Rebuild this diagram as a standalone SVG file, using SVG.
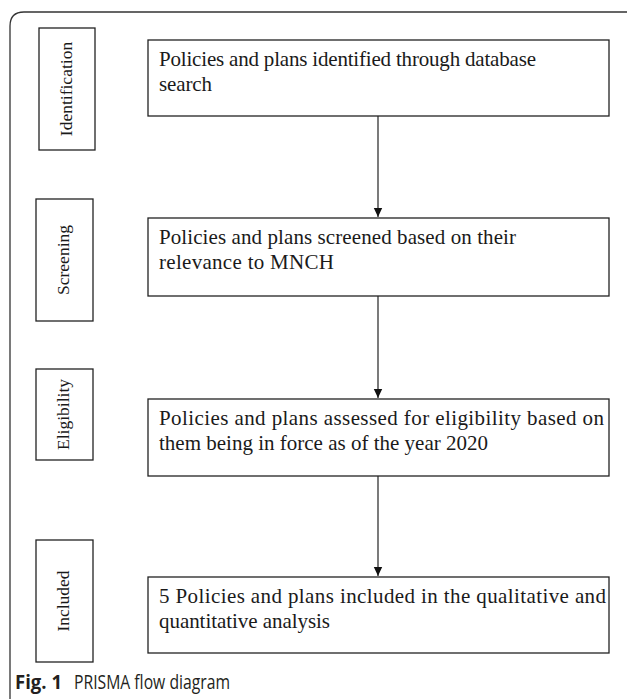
<svg xmlns="http://www.w3.org/2000/svg" width="627" height="699" viewBox="0 0 627 699">
<style>
.box{fill:#fff;stroke:#222;stroke-width:1.3}
.side{fill:#fff;stroke:#222;stroke-width:1.3}
.t{font-family:"Liberation Serif","Times New Roman",serif;font-size:21px;fill:#1a1a1a}
.s{font-family:"Liberation Serif","Times New Roman",serif;font-size:17.5px;fill:#1a1a1a;text-anchor:middle}
.conn{stroke:#222;stroke-width:1.2;fill:none}
.cap{font-family:"Open Sans","Noto Sans",sans-serif;font-size:19.5px;fill:#231f20}
</style>
<defs>
<marker id="ah" markerWidth="10" markerHeight="10" refX="9" refY="5" orient="auto" markerUnits="userSpaceOnUse">
<path d="M0,0.8 L9,5 L0,9.2 Z" fill="#111"/>
</marker>
</defs>
<path d="M10,699 L10,26 Q10,12 24,12 L627,12" fill="none" stroke="#333" stroke-width="1.3"/>

<g id="side-identification">
<rect class="side" x="39" y="28" width="56" height="122"/>
<text class="s" transform="translate(72,89) rotate(-90)">Identification</text>
</g>
<g id="side-screening">
<rect class="side" x="36" y="199" width="57" height="122"/>
<text class="s" transform="translate(69,260) rotate(-90)">Screening</text>
</g>
<g id="side-eligibility">
<rect class="side" x="36" y="369" width="57" height="91"/>
<text class="s" transform="translate(69,414.5) rotate(-90)">Eligibility</text>
</g>
<g id="side-included">
<rect class="side" x="36" y="540" width="57" height="122"/>
<text class="s" transform="translate(69,601) rotate(-90)">Included</text>
</g>

<g id="box-identification">
<rect class="box" x="148" y="40" width="461" height="76"/>
<text class="t" x="159" y="66" textLength="377" lengthAdjust="spacing">Policies and plans identified through database</text>
<text class="t" x="159" y="91" textLength="53" lengthAdjust="spacing">search</text>
</g>
<g id="box-screening">
<rect class="box" x="148" y="218" width="461" height="78"/>
<text class="t" x="159" y="244" textLength="357" lengthAdjust="spacing">Policies and plans screened based on their</text>
<text class="t" x="159" y="269" textLength="175" lengthAdjust="spacing">relevance to MNCH</text>
</g>
<g id="box-eligibility">
<rect class="box" x="148" y="399" width="461" height="77"/>
<text class="t" x="159" y="425" textLength="445" lengthAdjust="spacing">Policies and plans assessed for eligibility based on</text>
<text class="t" x="159" y="450" textLength="329" lengthAdjust="spacing">them being in force as of the year 2020</text>
</g>
<g id="box-included">
<rect class="box" x="148" y="577" width="461" height="76"/>
<text class="t" x="159" y="603" textLength="447" lengthAdjust="spacing">5 Policies and plans included in the qualitative and</text>
<text class="t" x="159" y="628" textLength="171" lengthAdjust="spacing">quantitative analysis</text>
</g>

<g id="connectors">
<line class="conn" x1="378" y1="116" x2="378" y2="217" marker-end="url(#ah)"/>
<line class="conn" x1="378" y1="296" x2="378" y2="398" marker-end="url(#ah)"/>
<line class="conn" x1="378" y1="476" x2="378" y2="576" marker-end="url(#ah)"/>
</g>

<text class="cap" x="15" y="689" font-weight="bold" textLength="47" lengthAdjust="spacingAndGlyphs">Fig. 1</text>
<text class="cap" x="74" y="689" textLength="156" lengthAdjust="spacingAndGlyphs">PRISMA flow diagram</text>
</svg>
